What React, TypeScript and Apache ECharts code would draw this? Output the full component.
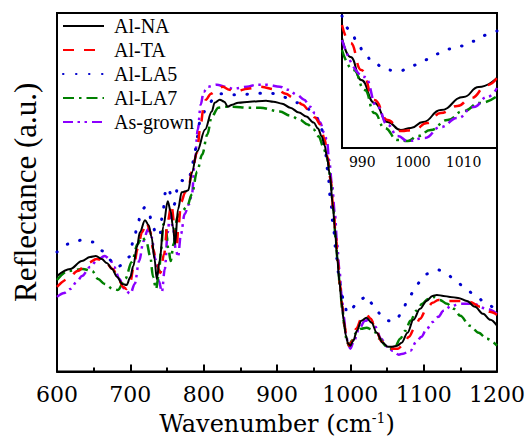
import React, { useEffect, useRef } from 'react';
import * as echarts from 'echarts';

// Main spectra: [wavenumber (cm-1), reflectance (a.u.)]
const alNA: number[][] = [[600,96],[618,103],[634,111],[645,115],[653,116],[661,113],[668,109],[675,103],[682,95],[689,88],[695,87],[700,95],[704,106],[709,125],[713,140],[720,152],[725,147],[729,135],[733,113],[736,93],[740,111],[745,146],[751,171],[755,161],[758,146],[761,128],[765,163],[770,180],[775,181],[779,182],[784,200],[791,221],[802,243],[811,261],[815,270],[822,273],[828,271],[833,266],[839,268],[847,270],[863,271],[885,272],[895,271],[907,269],[918,265],[930,260],[940,256],[950,250],[956,244],[961,236],[965,227],[968,216],[972,198],[976,168],[979,143],[982,115],[985,91],[988,70],[991,51],[994,36],[997,28],[1000,26],[1004,31],[1009,41],[1015,51],[1022,54],[1029,49],[1036,39],[1044,29],[1051,25],[1057,25],[1064,26],[1070,29],[1078,39],[1086,52],[1095,63],[1104,71],[1112,76],[1118,77],[1127,76],[1136,75],[1147,74],[1159,71],[1170,65],[1181,58],[1191,52],[1200,46]];
const alTA: number[][] = [[600,85],[615,93],[628,101],[642,109],[654,113],[665,111],[676,103],[684,93],[690,85],[695,83],[700,90],[704,103],[710,123],[716,140],[722,150],[727,141],[731,123],[736,107],[741,99],[746,118],[751,151],[756,168],[760,148],[763,125],[766,148],[769,170],[775,180],[780,188],[785,205],[791,220],[795,243],[800,265],[803,273],[810,279],[818,283],[826,286],[835,283],[843,281],[860,284],[877,286],[900,283],[912,279],[922,275],[935,268],[945,261],[952,255],[959,248],[965,233],[969,215],[973,193],[977,163],[980,137],[983,111],[986,87],[989,66],[992,47],[995,33],[998,26],[1002,30],[1008,43],[1015,53],[1022,57],[1028,53],[1035,41],[1043,30],[1050,25],[1058,23],[1065,23],[1072,27],[1080,35],[1087,43],[1095,53],[1104,63],[1112,69],[1120,72],[1130,71],[1140,71],[1152,71],[1163,70],[1177,65],[1190,60],[1200,57]];
const alLA5: number[][] = [[600,120],[615,128],[634,132],[649,130],[663,121],[675,111],[683,105],[690,108],[698,115],[705,133],[710,148],[715,161],[720,165],[725,160],[730,148],[735,138],[740,136],[744,158],[748,180],[752,185],[756,175],[760,168],[764,183],[769,192],[775,191],[780,192],[784,206],[788,220],[791,235],[795,251],[803,263],[813,273],[822,279],[832,279],[840,278],[850,278],[870,279],[886,280],[898,279],[908,276],[918,273],[927,270],[937,266],[945,263],[951,258],[956,253],[961,243],[965,228],[969,203],[973,173],[977,143],[981,115],[985,93],[988,78],[992,66],[996,59],[1000,60],[1006,66],[1015,73],[1023,76],[1030,68],[1037,60],[1045,53],[1053,51],[1062,51],[1070,59],[1078,71],[1086,80],[1095,90],[1104,98],[1112,101],[1120,102],[1130,99],[1140,94],[1154,86],[1168,78],[1186,68],[1200,60]];
const alLA7: number[][] = [[600,92],[615,101],[635,103],[648,101],[656,93],[665,88],[676,83],[683,82],[693,93],[702,110],[710,128],[716,135],[722,130],[727,116],[731,95],[735,83],[739,98],[742,123],[745,148],[748,145],[752,123],[755,111],[759,128],[764,155],[770,161],[777,165],[784,178],[791,201],[798,218],[805,238],[811,256],[820,265],[832,266],[840,266],[860,265],[877,265],[904,261],[918,257],[931,253],[942,248],[950,243],[957,236],[963,226],[967,218],[970,210],[973,191],[977,161],[980,133],[983,108],[986,83],[989,63],[992,45],[995,31],[998,26],[1002,31],[1008,39],[1015,43],[1022,44],[1031,42],[1040,33],[1048,26],[1054,23],[1061,25],[1068,33],[1075,41],[1082,51],[1090,61],[1098,68],[1106,73],[1113,75],[1122,72],[1132,68],[1141,63],[1150,56],[1163,46],[1175,39],[1186,33],[1200,26]];
const asGrown: number[][] = [[600,75],[610,79],[618,83],[628,91],[634,96],[645,105],[655,112],[665,116],[672,113],[678,105],[685,93],[692,83],[700,78],[706,88],[712,111],[718,131],[724,143],[729,135],[734,113],[739,91],[743,80],[747,103],[751,140],[754,158],[758,145],[762,123],[765,115],[769,138],[774,158],[780,168],[784,178],[788,213],[792,243],[796,268],[800,281],[806,286],[818,288],[830,286],[840,284],[859,286],[872,288],[886,288],[904,286],[915,283],[927,278],[937,273],[945,266],[952,259],[959,250],[964,240],[968,233],[971,213],[975,188],[979,158],[982,128],[985,103],[988,78],[991,55],[994,38],[997,27],[1000,23],[1005,31],[1012,43],[1020,51],[1027,53],[1034,45],[1042,33],[1050,25],[1058,21],[1066,17],[1072,18],[1082,21],[1090,30],[1097,35],[1104,43],[1113,50],[1120,55],[1127,61],[1138,66],[1150,68],[1168,68],[1186,63],[1200,58]];

// Inset (986-1017 cm-1), magnified reflectance scale
const inNA: number[][] = [[986,110],[987.7,91],[989.8,68],[992.4,45],[995,26],[997.6,18],[999.6,20],[1002,26],[1005.5,38],[1010,51],[1013,61],[1016.6,70]];
const inTA: number[][] = [[986,123],[987.7,105],[989.8,78],[992.4,48],[995,28],[997.6,17],[1000.2,18],[1002.8,25],[1005.5,35],[1008.8,42],[1011.5,50],[1014.7,63],[1016.6,70]];
const inLA5: number[][] = [[986,132],[987.6,118],[989,107],[990.2,97],[992.2,85],[994.8,78],[997.4,77],[999.6,82],[1002.3,88],[1004.5,94],[1007.1,99],[1009.7,102],[1012.4,107],[1014.6,113],[1016.6,117]];
const inLA7: number[][] = [[986,98],[988.3,78],[990.5,58],[992.4,35],[994.4,20],[997,8],[999,7],[1001,12],[1003.5,18],[1006.8,28],[1010,37],[1013.2,45],[1016.6,52]];
const inAG: number[][] = [[986,108],[990.5,71],[993,41],[995,23],[997,12],[999,7],[1002.3,10],[1005.5,21],[1008.8,30],[1012,41],[1014.7,51],[1016.6,60]];

const seriesNames = ['Al-NA', 'Al-TA', 'Al-LA5', 'Al-LA7', 'As-grown'];
const mainTicks = [600, 700, 800, 900, 1000, 1100, 1200];
const insetMajorTicks = [990, 1000, 1010];
const insetMinorTicks = [995, 1005, 1015];

export default function App() {
  const ref = useRef<HTMLDivElement>(null);
  useEffect(() => {
    document.body.style.margin = '0';
    const chart = echarts.init(ref.current!, null, { renderer: 'svg' });
    const font = 'serif';
    const xFont = 'DejaVu Serif';
    const fmt = (v: number) => String(v);
    const styles: any[] = [
      { color: '#000000', type: 'solid', width: 2, cap: 'butt' },
      { color: '#ff0000', type: [11, 10], width: 2.5, cap: 'butt' },
      { color: '#0000cd', type: [0.5, 12.5], width: 3, cap: 'round' },
      { color: '#008000', type: [11, 5, 2.5, 5], width: 2.5, cap: 'butt' },
      { color: '#8b00ff', type: [10, 4.5, 2.5, 4.5, 2.5, 5], width: 2.5, cap: 'butt' },
    ];
    const mainData = [alNA, alTA, alLA5, alLA7, asGrown];
    const insetData = [inNA, inTA, inLA5, inLA7, inAG];
    const series: any[] = [];
    mainData.forEach((d, i) => {
      series.push({
        name: seriesNames[i], type: 'line', xAxisIndex: 0, yAxisIndex: 0, data: d,
        symbol: 'none', smooth: 0.35, smoothMonotone: 'x', z: 2 + (4 - i) * 0.01,
        color: styles[i].color,
        lineStyle: { color: styles[i].color, type: styles[i].type, width: styles[i].width, cap: styles[i].cap },
      });
    });
    insetData.forEach((d, i) => {
      series.push({
        name: seriesNames[i], type: 'line', xAxisIndex: 1, yAxisIndex: 1, data: d,
        symbol: 'none', smooth: 0.5, smoothMonotone: 'x', z: 12,
        color: styles[i].color,
        lineStyle: { color: styles[i].color, type: styles[i].type, width: styles[i].width, cap: styles[i].cap },
      });
    });
    const txt = (family: string, size: number) => ({ fontFamily: family, fontSize: size, fontWeight: 'normal', fontStyle: 'normal', color: '#000' });
    const option: any = {
      animation: false,
      backgroundColor: '#ffffff',
      grid: [
        { left: 57, top: 13, width: 440, height: 360, show: true, borderColor: '#000', borderWidth: 2, backgroundColor: 'transparent', containLabel: false },
        { left: 342, top: 13, width: 155, height: 135, show: true, borderColor: '#000', borderWidth: 2, backgroundColor: '#ffffff', z: 10, containLabel: false },
      ],
      legend: {
        data: seriesNames, orient: 'vertical', left: 62, top: 16, padding: 0,
        itemWidth: 41, itemHeight: 12, itemGap: 4,
        itemStyle: { opacity: 0 },
        textStyle: { ...txt(font, 20), padding: [0, 0, 0, 5] },
      },
      xAxis: [
        {
          gridIndex: 0, type: 'value', min: 600, max: 1200, interval: 100,
          axisLine: { lineStyle: { color: '#000', width: 2 } },
          axisTick: { inside: true, length: 7, lineStyle: { color: '#000', width: 2 } },
          minorTick: { show: true, splitNumber: 2, length: 4, lineStyle: { color: '#000', width: 2 } },
          axisLabel: { ...txt(xFont, 22), margin: 12, customValues: mainTicks, formatter: fmt },
          splitLine: { show: false },
          name: '{a|Wavenumber (cm}{s|-1}{a|)}', nameLocation: 'middle', nameGap: 35,
          nameTextStyle: {
            ...txt(xFont, 24),
            rich: {
              a: { ...txt(xFont, 24), lineHeight: 27 },
              s: { ...txt(xFont, 14), lineHeight: 14, verticalAlign: 'top' },
            },
          },
        },
        {
          gridIndex: 1, type: 'value', min: 986, max: 1016.6, position: 'bottom',
          axisLine: { lineStyle: { color: '#000', width: 2 } },
          axisTick: { inside: true, length: 6, customValues: insetMajorTicks, lineStyle: { color: '#000', width: 1.5 } },
          axisLabel: { ...txt(xFont, 14), margin: 7, customValues: insetMajorTicks, formatter: fmt },
          splitLine: { show: false },
        },
        {
          gridIndex: 1, type: 'value', min: 986, max: 1016.6, position: 'bottom',
          axisLine: { show: false },
          axisTick: { inside: true, length: 3.5, customValues: insetMinorTicks, lineStyle: { color: '#000', width: 1.5 } },
          axisLabel: { show: false },
          splitLine: { show: false },
        },
      ],
      yAxis: [
        {
          gridIndex: 0, type: 'value', min: 0, max: 360,
          axisLine: { show: false }, axisTick: { show: false }, axisLabel: { show: false }, splitLine: { show: false },
          name: 'Reflectance (a.u.)', nameLocation: 'middle', nameGap: 16,
          nameTextStyle: txt(font, 31),
        },
        {
          gridIndex: 1, type: 'value', min: 0, max: 135,
          axisLine: { show: false }, axisTick: { show: false }, axisLabel: { show: false }, splitLine: { show: false },
        },
      ],
      series,
    };
    chart.setOption(option);
    return () => chart.dispose();
  }, []);
  return <div ref={ref} style={{ width: 528, height: 441 }} />;
}
